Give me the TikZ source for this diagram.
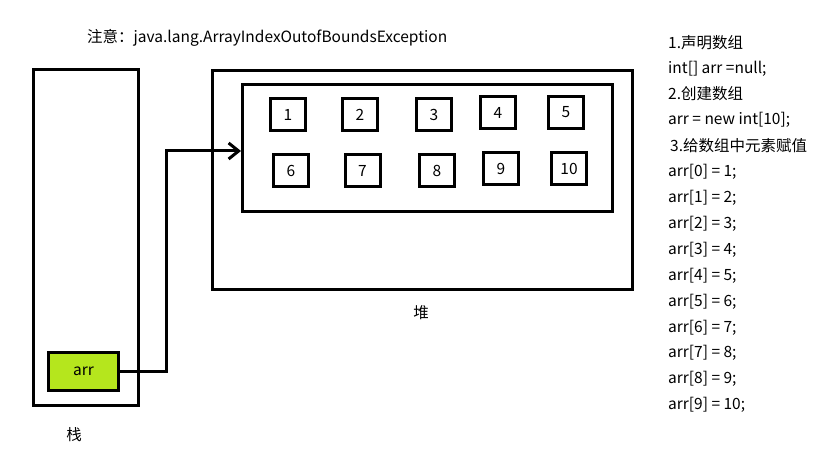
\documentclass[tikz,border=0pt]{standalone}
\usepackage{fontspec}
\setmainfont{Noto Sans CJK SC}
\usetikzlibrary{arrows.meta}
\definecolor{arrgreen}{HTML}{B5E61D}
\begin{document}
\begin{tikzpicture}[x=1pt,y=-1pt,
  every node/.style={font=\fontsize{15.5}{18}\selectfont, inner sep=0pt},
  frame/.style={draw, line width=3pt, rectangle},
  cell/.style={frame, minimum width=35pt, minimum height=32pt},
  txt/.style={anchor=west}]
\useasboundingbox[fill=white] (0,0) rectangle (816,470);
% stack and heap
\node[frame, minimum width=105pt, minimum height=336pt] (stack) at (86,237.5) {};
\node[frame, minimum width=420pt, minimum height=219pt] (heap) at (422.5,180) {};
\node[frame, minimum width=370pt, minimum height=127pt] (inner) at (427.5,148) {};
\node[frame, fill=arrgreen, minimum width=70pt, minimum height=38pt] (arr) at (83.5,371.5) {arr};
% cells
\node[cell] (c1) at (288,114.5) {1};
\node[cell] (c2) at (360,114.5) {2};
\node[cell] (c3) at (434,114.5) {3};
\node[cell] (c4) at (498,112.5) {4};
\node[cell] (c5) at (566,112.5) {5};
\node[cell] (c6) at (291,170.5) {6};
\node[cell] (c7) at (362.5,170.5) {7};
\node[cell] (c8) at (437,170.5) {8};
\node[cell] (c9) at (501,168.5) {9};
\node[cell] (c10) at (569,168.5) {10};
% connector
\coordinate (bend) at (166,151);
\draw[line width=3pt, -{Straight Barb[length=10pt,width=16pt]}] (arr.east) -| (bend) -- (bend -| inner.west);
% labels
\node (title) [txt] at (87,38) {注意：java.lang.ArrayIndexOutofBoundsException};
\node (stacklbl) at (74,435) {栈};
\node (heaplbl) at (421,313) {堆};
% code text
\node (t1) [txt] at (668,43) {1.声明数组};
\node (t2) [txt] at (668,69) {int[] arr =null;};
\node (t3) [txt] at (668,94) {2.创建数组};
\node (t4) [txt] at (668,120) {arr = new int[10];};
\node (t5) [txt] at (670,146) {3.给数组中元素赋值};
\node (a0) [txt] at (668,172) {arr[0] = 1;};
\node (a1) [txt] at (668,198) {arr[1] = 2;};
\node (a2) [txt] at (668,224) {arr[2] = 3;};
\node (a3) [txt] at (668,250) {arr[3] = 4;};
\node (a4) [txt] at (668,276) {arr[4] = 5;};
\node (a5) [txt] at (668,302) {arr[5] = 6;};
\node (a6) [txt] at (668,328) {arr[6] = 7;};
\node (a7) [txt] at (668,353) {arr[7] = 8;};
\node (a8) [txt] at (668,379) {arr[8] = 9;};
\node (a9) [txt] at (668,405) {arr[9] = 10;};
\end{tikzpicture}
\end{document}
